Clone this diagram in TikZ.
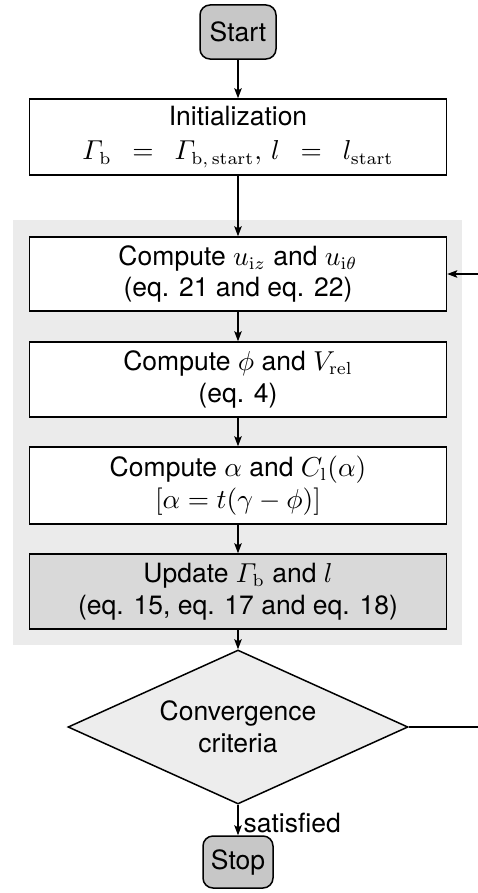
\documentclass[tikz,border=0pt]{standalone}
\usepackage{amsmath}
\usepackage[no-math]{fontspec}
\setmainfont{TeX Gyre Heros}
\usetikzlibrary{shapes.geometric,arrows.meta}
\begin{document}
\begin{tikzpicture}[x=0.4pt,y=-0.4pt,
  font=\fontsize{10.6}{12.6}\selectfont,
  terminal/.style={draw, line width=0.6pt, rounded corners=4pt, fill=black!22,
    minimum width=30.4pt, minimum height=21.6pt, inner sep=0pt},
  process/.style={draw, line width=0.6pt, fill=white, align=center,
    minimum width=166.8pt, minimum height=30pt, inner sep=0pt},
  decision/.style={draw, line width=0.6pt, diamond, fill=black!7, align=center,
    minimum width=136pt, minimum height=61.6pt, inner sep=0pt, aspect=2.2},
  flow/.style={line width=0.5pt, -{Stealth[length=4pt,width=3pt,inset=0.8pt]}}]
  \useasboundingbox (0,0) rectangle (478,893);

  % shaded iteration loop
  \fill[black!8] (13,220) rectangle (462,645);

  \node[terminal] (start) at (238,32) {Start};
  \node[process, minimum height=30.4pt] (init) at (238,137)
    {Initialization\\[1pt]
     $\varGamma_\mathrm{b}\enspace=\enspace\varGamma_{\mathrm{b,\,start}},\, l\enspace=\enspace l_\mathrm{start}$};
  \node[process, minimum height=29.6pt] (cu) at (238,274)
    {Compute $u_{\mathrm{i}z}$ and $u_{\mathrm{i}\theta}$\\(eq. 21 and eq. 22)};
  \node[process] (cphi) at (238,379.5)
    {Compute $\phi$ and $V_\mathrm{rel}$\\(eq. 4)};
  \node[process, minimum height=30.8pt] (calpha) at (238,485.5)
    {Compute $\alpha$ and $C_\mathrm{l}(\alpha)$\\$[\alpha = t(\gamma-\phi)]$};
  \node[process, fill=black!15] (upd) at (238,591.5)
    {Update $\varGamma_\mathrm{b}$ and $l$\\(eq. 15, eq. 17 and eq. 18)};
  \node[decision] (cc) at (238,727) {Convergence\\criteria};
  \node[terminal, minimum width=28pt, minimum height=20.8pt] (stop) at (238,862) {Stop};
  \coordinate (fb) at (481,727);

  \draw[flow] (start) -- (init);
  \draw[flow] (init) -- (cu);
  \draw[flow] (cu) -- (cphi);
  \draw[flow] (cphi) -- (calpha);
  \draw[flow] (calpha) -- (upd);
  \draw[flow] (upd) -- (cc);
  \draw[flow] (cc) -- node[right, inner sep=2pt, yshift=-1pt] (sat) {satisfied} (stop);
  \draw[flow] (cc.east) -- (fb) |- (cu.east);
\end{tikzpicture}
\end{document}
